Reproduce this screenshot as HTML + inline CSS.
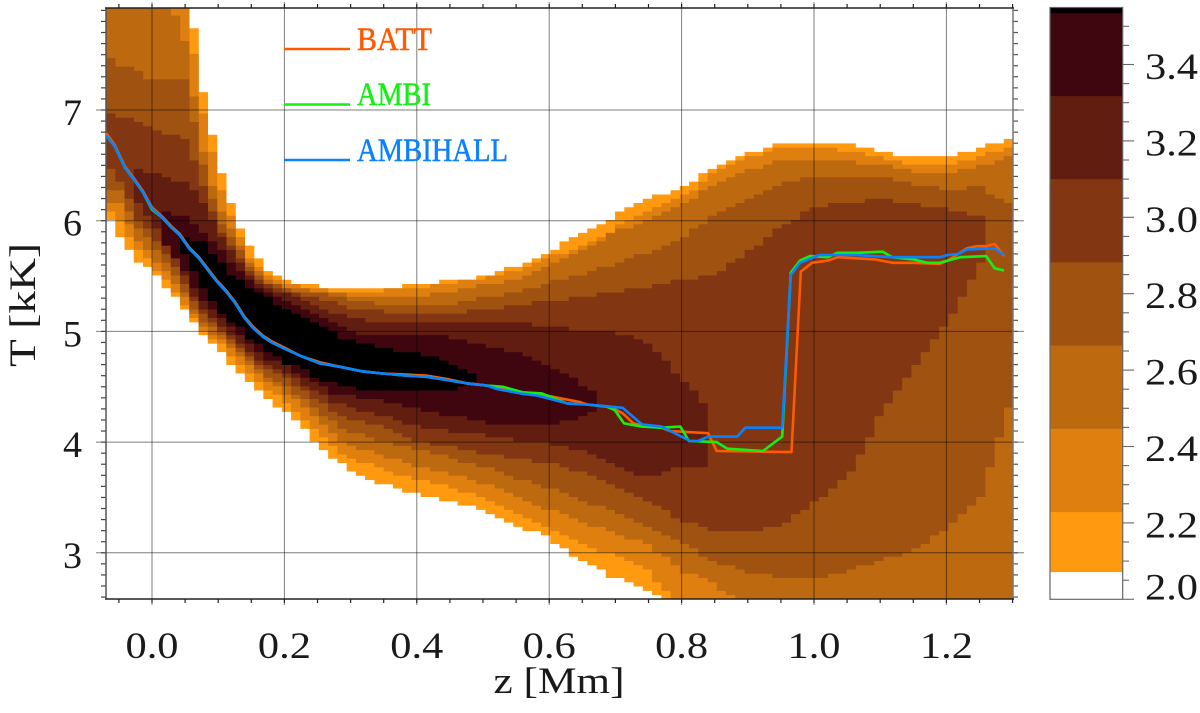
<!DOCTYPE html>
<html lang="en">
<head>
<meta charset="utf-8">
<title>Temperature vs height histogram</title>
<style>
html,body{margin:0;padding:0;background:#fff;}
svg{display:block;}
text{font-family:"Liberation Serif",serif;fill:#1a1a1a;}
</style>
</head>
<body>
<svg id="chart" xmlns="http://www.w3.org/2000/svg" width="1200" height="713" viewBox="0 0 1200 713">
  <defs><clipPath id="plot-clip"><rect x="106" y="8" width="907" height="591"/></clipPath></defs>
  <g id="bands" clip-path="url(#plot-clip)"></g>
  <g id="grid"></g>
  <g id="ticks"></g>
  <g id="frame">
    <line x1="106" y1="8" x2="106" y2="599" stroke="#555" stroke-width="1.5"/>
    <line x1="1013" y1="8" x2="1013" y2="599" stroke="#777" stroke-width="1.5"/>
    <line x1="105" y1="8" x2="1014" y2="8" stroke="#222" stroke-width="1.5"/>
    <line x1="105" y1="599" x2="1014" y2="599" stroke="#222" stroke-width="1.5"/>
  </g>
  <g id="series" clip-path="url(#plot-clip)"></g>
  <g id="tick-labels"></g>
  <text x="559" y="693" text-anchor="middle" font-size="37" textLength="131" lengthAdjust="spacingAndGlyphs">z [Mm]</text>
  <text transform="translate(35,305) rotate(-90)" text-anchor="middle" font-size="37" textLength="124" lengthAdjust="spacingAndGlyphs">T [kK]</text>
  <g>
    <line x1="284" y1="49" x2="350" y2="49" stroke="#ff5a00" stroke-width="2.5"/>
    <text x="357" y="50" font-size="33" style="fill:#ff5a00;stroke:#ff5a00;stroke-width:.5" textLength="75" lengthAdjust="spacingAndGlyphs">BATT</text>
    <line x1="284" y1="104.5" x2="350" y2="104.5" stroke="#14f014" stroke-width="2.5"/>
    <text x="357" y="105" font-size="33" style="fill:#14f014;stroke:#14f014;stroke-width:.5" textLength="74" lengthAdjust="spacingAndGlyphs">AMBI</text>
    <line x1="284" y1="160" x2="350" y2="160" stroke="#0a82ff" stroke-width="2.5"/>
    <text x="357" y="161" font-size="33" style="fill:#0a82ff;stroke:#0a82ff;stroke-width:.5" textLength="151" lengthAdjust="spacingAndGlyphs">AMBIHALL</text>
  </g>
  <g id="colorbar"></g>
</svg>
<script>
// ---------- axis tick data ----------
const xTickValues = [0, 0.2, 0.4, 0.6, 0.8, 1.0, 1.2];
const xTickLabels = ["0.0", "0.2", "0.4", "0.6", "0.8", "1.0", "1.2"];
const yTickValues = [3, 4, 5, 6, 7];
const yTickLabels = ["3", "4", "5", "6", "7"];
const barTickValues = [2.0, 2.2, 2.4, 2.6, 2.8, 3.0, 3.2, 3.4];
const barTickLabels = ["2.0", "2.2", "2.4", "2.6", "2.8", "3.0", "3.2", "3.4"];

// ---------- colorbar levels (log counts) ----------
const barLevels = [2.0, 2.072, 2.229, 2.447, 2.665, 2.883, 3.10, 3.318, 3.535, 3.549];

// ---------- histogram contour outlines: z in Mm, T in kK ----------
const zGrid = [-0.07, -0.05, -0.025, 0, 0.025, 0.05, 0.075, 0.1, 0.125, 0.15, 0.175, 0.2, 0.225, 0.25, 0.275, 0.3, 0.35, 0.4, 0.45, 0.5, 0.55, 0.6, 0.65, 0.7, 0.75, 0.8, 0.85, 0.9, 0.95, 1.0, 1.05, 1.1, 1.15, 1.2, 1.25, 1.3];

const band1Top = [8, 8, 8, 8, 8, 8.3, 7.23, 6.55, 6.04, 5.74, 5.54, 5.46, 5.43, 5.41, 5.38, 5.38, 5.40, 5.42, 5.46, 5.50, 5.59, 5.73, 5.88, 6.05, 6.20, 6.30, 6.48, 6.61, 6.69, 6.69, 6.69, 6.62, 6.58, 6.58, 6.66, 6.73];
const band1Bottom = [6.08, 5.87, 5.66, 5.54, 5.37, 5.19, 4.97, 4.83, 4.68, 4.52, 4.38, 4.29, 4.15, 3.97, 3.84, 3.75, 3.61, 3.54, 3.46, 3.39, 3.25, 3.13, 2.91, 2.77, 2.66, 2.5, 2.5, 2.5, 2.5, 2.5, 2.5, 2.5, 2.5, 2.5, 2.5, 2.5];

const band2Top = [8, 8, 8, 8, 8, 8, 7.05, 6.37, 5.93, 5.64, 5.51, 5.44, 5.40, 5.38, 5.36, 5.36, 5.37, 5.39, 5.44, 5.47, 5.55, 5.66, 5.77, 5.93, 6.08, 6.21, 6.44, 6.57, 6.66, 6.66, 6.63, 6.58, 6.50, 6.50, 6.58, 6.66];
const band2Bottom = [6.14, 6.01, 5.78, 5.60, 5.45, 5.24, 5.01, 4.90, 4.76, 4.60, 4.45, 4.38, 4.24, 4.09, 3.95, 3.86, 3.75, 3.66, 3.59, 3.50, 3.37, 3.23, 3.07, 2.98, 2.83, 2.5, 2.5, 2.5, 2.5, 2.5, 2.5, 2.5, 2.5, 2.5, 2.5, 2.5];

const band3Top = [8, 8, 8, 8, 8, 7.61, 6.68, 6.14, 5.86, 5.59, 5.47, 5.41, 5.38, 5.36, 5.35, 5.33, 5.32, 5.31, 5.36, 5.42, 5.47, 5.59, 5.74, 5.90, 6.01, 6.14, 6.34, 6.46, 6.54, 6.54, 6.54, 6.50, 6.45, 6.43, 6.50, 6.58];
const band3Bottom = [6.19, 6.16, 5.84, 5.69, 5.51, 5.30, 5.06, 4.94, 4.83, 4.67, 4.54, 4.45, 4.34, 4.20, 4.06, 3.96, 3.88, 3.78, 3.71, 3.63, 3.50, 3.39, 3.28, 3.18, 3.07, 2.84, 2.71, 2.5, 2.5, 2.5, 2.5, 2.5, 2.5, 2.5, 2.5, 2.5];

const band4Top = [7.51, 7.41, 7.36, 7.27, 7.29, 7.27, 6.55, 6.01, 5.80, 5.55, 5.44, 5.39, 5.36, 5.34, 5.32, 5.27, 5.25, 5.22, 5.25, 5.30, 5.36, 5.44, 5.52, 5.60, 5.72, 5.83, 6.05, 6.19, 6.34, 6.39, 6.39, 6.39, 6.32, 6.29, 6.30, 6.16];
const band4Bottom = [6.30, 6.28, 5.96, 5.80, 5.60, 5.35, 5.10, 4.99, 4.88, 4.72, 4.59, 4.52, 4.41, 4.29, 4.18, 4.09, 4.01, 3.93, 3.86, 3.78, 3.68, 3.59, 3.48, 3.36, 3.23, 3.09, 2.91, 2.83, 2.77, 2.77, 2.83, 2.93, 3.02, 3.21, 3.48, 4.43];

const band5Z = [-0.07, -0.05, -0.025, 0, 0.025, 0.05, 0.075, 0.1, 0.125, 0.15, 0.175, 0.2, 0.225, 0.25, 0.275, 0.3, 0.35, 0.4, 0.45, 0.5, 0.55, 0.6, 0.65, 0.7, 0.75, 0.8, 0.85, 0.9, 0.95, 1.0, 1.05, 1.1, 1.15, 1.2, 1.25, 1.26];
const band5Top = [6.96, 6.95, 6.89, 6.82, 6.77, 6.75, 6.37, 5.95, 5.74, 5.52, 5.41, 5.37, 5.33, 5.30, 5.26, 5.20, 5.18, 5.15, 5.17, 5.19, 5.24, 5.28, 5.30, 5.36, 5.40, 5.46, 5.51, 5.71, 5.95, 6.11, 6.17, 6.19, 6.15, 6.10, 6.04, 6.03];
const band5Bottom = [6.50, 6.39, 6.05, 5.87, 5.69, 5.42, 5.15, 5.04, 4.90, 4.76, 4.65, 4.58, 4.47, 4.38, 4.27, 4.20, 4.13, 4.00, 3.97, 3.90, 3.86, 3.81, 3.73, 3.59, 3.45, 3.30, 3.19, 3.19, 3.25, 3.46, 3.68, 4.24, 4.67, 5.06, 5.60, 5.80];

const band6Z = [-0.027, 0, 0.025, 0.05, 0.075, 0.1, 0.125, 0.15, 0.175, 0.2, 0.225, 0.25, 0.275, 0.3, 0.35, 0.4, 0.45, 0.5, 0.55, 0.6, 0.65, 0.7, 0.75, 0.8, 0.84];
const band6Top = [6.46, 6.44, 6.37, 6.34, 6.19, 5.90, 5.69, 5.48, 5.38, 5.35, 5.30, 5.21, 5.17, 5.11, 5.09, 5.08, 5.08, 5.08, 5.08, 5.05, 5.00, 5.00, 4.88, 4.58, 4.31];
const band6Bottom = [6.21, 5.98, 5.76, 5.48, 5.19, 5.08, 4.95, 4.80, 4.69, 4.63, 4.54, 4.45, 4.36, 4.31, 4.24, 4.15, 4.09, 4.06, 4.02, 3.99, 3.93, 3.78, 3.68, 3.78, 3.78];

const band7Z = [0.015, 0.025, 0.05, 0.075, 0.1, 0.125, 0.15, 0.175, 0.2, 0.225, 0.25, 0.275, 0.3, 0.35, 0.4, 0.45, 0.5, 0.55, 0.6, 0.65, 0.672];
const band7Top = [6.08, 6.06, 6.03, 5.90, 5.76, 5.59, 5.44, 5.35, 5.30, 5.23, 5.14, 5.06, 4.99, 4.97, 4.96, 4.95, 4.88, 4.81, 4.69, 4.52, 4.43];
const band7Bottom = [5.80, 5.74, 5.54, 5.28, 5.13, 5.01, 4.86, 4.74, 4.70, 4.61, 4.52, 4.43, 4.41, 4.37, 4.31, 4.24, 4.18, 4.15, 4.15, 4.22, 4.33];

const band8Z = [0.042, 0.05, 0.075, 0.1, 0.125, 0.15, 0.175, 0.2, 0.225, 0.25, 0.275, 0.3, 0.35, 0.4, 0.45, 0.489];
const band8Top = [5.85, 5.85, 5.81, 5.66, 5.48, 5.39, 5.30, 5.19, 5.12, 5.06, 4.98, 4.91, 4.85, 4.80, 4.72, 4.62];
const band8Bottom = [5.73, 5.69, 5.42, 5.17, 5.08, 4.92, 4.83, 4.72, 4.67, 4.58, 4.52, 4.49, 4.47, 4.47, 4.47, 4.54];

// ---------- mean temperature curves ----------
const ambihallZ = [-0.069, -0.056, -0.041, -0.027, -0.014, 0, 0.015, 0.029, 0.042, 0.056, 0.071, 0.085, 0.098, 0.112, 0.125, 0.14, 0.153, 0.168, 0.181, 0.198, 0.224, 0.254, 0.284, 0.317, 0.349, 0.385, 0.415, 0.446, 0.476, 0.506, 0.521, 0.556, 0.582, 0.601, 0.627, 0.657, 0.692, 0.711, 0.74, 0.77, 0.813, 0.825, 0.84, 0.884, 0.896, 0.952, 0.965, 0.979, 1.008, 1.065, 1.089, 1.119, 1.19, 1.202, 1.218, 1.231, 1.273, 1.287];
const ambihallT = [6.77, 6.67, 6.48, 6.37, 6.26, 6.11, 6.03, 5.94, 5.87, 5.75, 5.66, 5.55, 5.45, 5.36, 5.26, 5.12, 5.03, 4.95, 4.90, 4.85, 4.78, 4.71, 4.68, 4.64, 4.62, 4.60, 4.59, 4.56, 4.53, 4.51, 4.48, 4.44, 4.42, 4.39, 4.35, 4.34, 4.32, 4.31, 4.16, 4.14, 4.01, 4.01, 4.05, 4.05, 4.13, 4.13, 5.51, 5.62, 5.69, 5.69, 5.68, 5.67, 5.67, 5.69, 5.70, 5.74, 5.75, 5.69];

const ambiZ = [-0.069, -0.056, -0.041, -0.027, -0.014, 0, 0.015, 0.029, 0.042, 0.056, 0.071, 0.085, 0.098, 0.112, 0.125, 0.14, 0.153, 0.168, 0.181, 0.198, 0.224, 0.254, 0.284, 0.317, 0.349, 0.385, 0.415, 0.446, 0.476, 0.506, 0.53, 0.56, 0.589, 0.601, 0.627, 0.657, 0.687, 0.699, 0.713, 0.74, 0.77, 0.798, 0.811, 0.853, 0.869, 0.923, 0.952, 0.965, 0.979, 0.994, 1.021, 1.035, 1.065, 1.104, 1.118, 1.15, 1.171, 1.19, 1.202, 1.221, 1.26, 1.273, 1.287];
const ambiT = [6.77, 6.67, 6.48, 6.37, 6.26, 6.10, 6.03, 5.94, 5.87, 5.75, 5.66, 5.55, 5.45, 5.36, 5.26, 5.12, 5.03, 4.95, 4.90, 4.85, 4.78, 4.71, 4.68, 4.64, 4.62, 4.60, 4.59, 4.56, 4.53, 4.51, 4.50, 4.45, 4.44, 4.41, 4.35, 4.34, 4.32, 4.29, 4.17, 4.14, 4.13, 4.14, 4.01, 4.00, 3.94, 3.92, 4.05, 5.53, 5.64, 5.68, 5.67, 5.71, 5.71, 5.72, 5.67, 5.65, 5.62, 5.62, 5.64, 5.67, 5.68, 5.57, 5.55];

const battZ = [-0.069, -0.056, -0.041, -0.027, -0.014, 0, 0.015, 0.029, 0.042, 0.056, 0.071, 0.085, 0.098, 0.112, 0.125, 0.14, 0.153, 0.168, 0.181, 0.198, 0.224, 0.254, 0.284, 0.317, 0.349, 0.385, 0.415, 0.446, 0.476, 0.506, 0.541, 0.56, 0.589, 0.613, 0.647, 0.657, 0.692, 0.711, 0.727, 0.74, 0.77, 0.782, 0.84, 0.853, 0.966, 0.98, 0.997, 1.021, 1.036, 1.065, 1.092, 1.119, 1.15, 1.19, 1.202, 1.231, 1.246, 1.26, 1.273, 1.287];
const battT = [6.79, 6.68, 6.49, 6.38, 6.27, 6.12, 6.04, 5.95, 5.88, 5.76, 5.67, 5.56, 5.46, 5.37, 5.27, 5.13, 5.04, 4.96, 4.91, 4.86, 4.78, 4.72, 4.68, 4.64, 4.62, 4.61, 4.60, 4.57, 4.53, 4.51, 4.47, 4.45, 4.43, 4.40, 4.36, 4.34, 4.32, 4.26, 4.17, 4.15, 4.13, 4.10, 4.08, 3.92, 3.91, 5.54, 5.62, 5.64, 5.67, 5.66, 5.65, 5.62, 5.62, 5.61, 5.64, 5.75, 5.77, 5.77, 5.79, 5.68];

// ---------- axis functions ----------
function xScale(z) { return 152 + 662 * z; }
function yScale(t) { return 110 + (7 - t) * 110.7; }
function barScale(v) { return 599.3 - (v - 2) * 382; }

const NS = "http://www.w3.org/2000/svg";
function make(tag, parent, attrs) {
  const node = document.createElementNS(NS, tag);
  for (const key in attrs) node.setAttribute(key, attrs[key]);
  parent.appendChild(node);
  return node;
}
function interp(zs, vs, z) {
  for (let i = 1; i < zs.length; i++) {
    if (z <= zs[i]) {
      const f = (z - zs[i - 1]) / (zs[i] - zs[i - 1]);
      return vs[i - 1] + f * (vs[i] - vs[i - 1]);
    }
  }
  return vs[vs.length - 1];
}

// ---------- contour bands, drawn as histogram cells ----------
const bandColors = ["#ff9a10", "#de7f10", "#bd6910", "#a05210", "#823712", "#611e10", "#40060f", "#000000"];
const bandList = [
  [zGrid, band1Top, band1Bottom],
  [zGrid, band2Top, band2Bottom],
  [zGrid, band3Top, band3Bottom],
  [zGrid, band4Top, band4Bottom],
  [band5Z, band5Top, band5Bottom],
  [band6Z, band6Top, band6Bottom],
  [band7Z, band7Top, band7Bottom],
  [band8Z, band8Top, band8Bottom]
];
const bandGroup = document.getElementById("bands");
const columnCount = 98;
const columnPx = 907 / columnCount;
const binT = 0.0385;
bandList.forEach(function (band, index) {
  let d = "";
  for (let c = 0; c < columnCount; c++) {
    const left = 106 + c * columnPx;
    const zMid = (left + columnPx / 2 - 152) / 662;
    if (zMid < band[0][0] || zMid > band[0][band[0].length - 1]) continue;
    const top = Math.round(interp(band[0], band[1], zMid) / binT) * binT;
    const bottom = Math.round(interp(band[0], band[2], zMid) / binT) * binT;
    d += "M" + left.toFixed(2) + " " + yScale(top).toFixed(2) +
         "H" + (left + columnPx + 0.2).toFixed(2) +
         "V" + yScale(bottom).toFixed(2) +
         "H" + left.toFixed(2) + "Z";
  }
  const el = make("path", bandGroup, { d: d, fill: bandColors[index] });
  
  
});

// ---------- grid and ticks ----------
const gridGroup = document.getElementById("grid");
xTickValues.forEach(function (v) {
  const el = make("line", gridGroup, { x1: xScale(v), x2: xScale(v), y1: 2, y2: 605, stroke: "#000", "stroke-opacity": 0.5, "stroke-width": 1 });
  
  
});
yTickValues.forEach(function (v) {
  const el = make("line", gridGroup, { x1: 96, x2: 1024, y1: yScale(v), y2: yScale(v), stroke: "#000", "stroke-opacity": 0.5, "stroke-width": 1 });
  
  
});

const tickGroup = document.getElementById("ticks");
for (let k = -1; k <= 26; k++) {
  const px = xScale(k * 0.05);
  const bottomTick = make("line", tickGroup, { x1: px, x2: px, y1: 599, y2: 603, stroke: "#222", "stroke-width": 1.2 });
  
  
  const topTick = make("line", tickGroup, { x1: px, x2: px, y1: 4, y2: 8, stroke: "#222", "stroke-width": 1.2 });
  
  
}
for (let k = 26; k <= 79; k++) {
  const py = yScale(k / 10);
  const leftTick = make("line", tickGroup, { x1: 101, x2: 106, y1: py, y2: py, stroke: "#444", "stroke-width": 1.2 });
  
  
  const rightTick = make("line", tickGroup, { x1: 1013, x2: 1018, y1: py, y2: py, stroke: "#555", "stroke-width": 1.2 });
  
  
}

// ---------- curves ----------
const seriesGroup = document.getElementById("series");
function curvePoints(zs, ts) {
  return zs.map(function (z, i) { return xScale(z).toFixed(1) + "," + yScale(ts[i]).toFixed(1); }).join(" ");
}
const battLine = make("polyline", seriesGroup, { points: curvePoints(battZ, battT), fill: "none", stroke: "#ff5a00", "stroke-width": 2.6, "stroke-linejoin": "round" });


const ambiLine = make("polyline", seriesGroup, { points: curvePoints(ambiZ, ambiT), fill: "none", stroke: "#14f014", "stroke-width": 2.6, "stroke-linejoin": "round" });


const ambihallLine = make("polyline", seriesGroup, { points: curvePoints(ambihallZ, ambihallT), fill: "none", stroke: "#0a82ff", "stroke-width": 2.6, "stroke-linejoin": "round" });



// ---------- tick labels ----------
const labelGroup = document.getElementById("tick-labels");
xTickValues.forEach(function (v, i) {
  const el = make("text", labelGroup, { x: xScale(v), y: 658, "text-anchor": "middle", "font-size": 37, textLength: 53, lengthAdjust: "spacingAndGlyphs" });
  el.textContent = xTickLabels[i];
  
  
});
yTickValues.forEach(function (v, i) {
  const el = make("text", labelGroup, { x: 72.5, y: yScale(v) + 15, "text-anchor": "middle", "font-size": 37, textLength: 19, lengthAdjust: "spacingAndGlyphs" });
  el.textContent = yTickLabels[i];
  
  
});

// ---------- colorbar ----------
const barGroup = document.getElementById("colorbar");
bandColors.forEach(function (color, i) {
  const top = barScale(barLevels[i + 2]);
  const bottom = barScale(barLevels[i + 1]);
  const el = make("rect", barGroup, { x: 1050, y: top, width: 72.7, height: bottom - top + 0.3, fill: color });
  
  
});
const barOutline = make("rect", barGroup, { x: 1050, y: 7.5, width: 72.7, height: 591.8, fill: "none", stroke: "#666", "stroke-width": 1.2 });


for (let k = 0; k <= 30; k++) {
  const py = barScale(2 + k * 0.05);
  const major = k % 4 === 0;
  const el = make("line", barGroup, { x1: 1122.7, x2: major ? 1134 : 1129, y1: py, y2: py, stroke: "#666", "stroke-width": 1.1 });
  
  
}
barTickValues.forEach(function (v, i) {
  const base = Math.min(barScale(v) + 14.5, 599.3);
  const el = make("text", barGroup, { x: 1145, y: base, "font-size": 37, textLength: 53, lengthAdjust: "spacingAndGlyphs" });
  el.textContent = barTickLabels[i];
  
  
});
</script>
</body>
</html>
